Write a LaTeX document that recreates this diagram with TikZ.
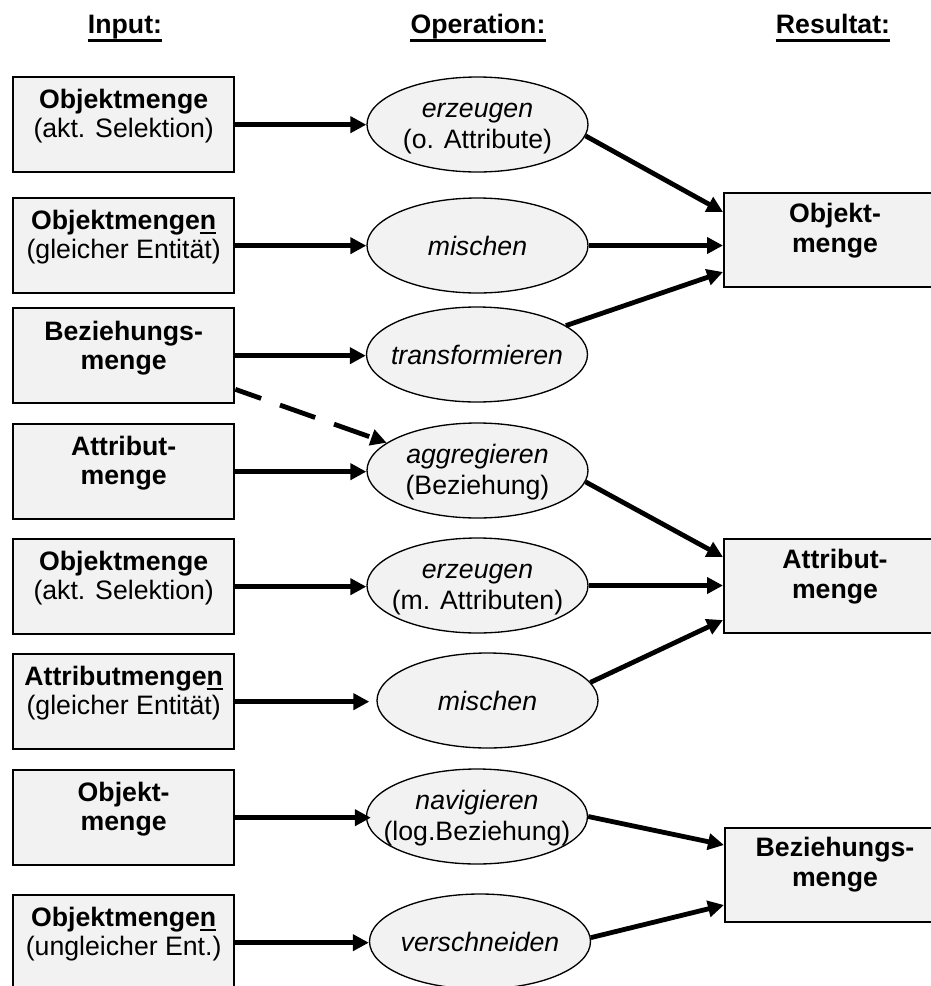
\documentclass[tikz,border=0pt]{standalone}
\usepackage{fontspec}
\setmainfont{Liberation Sans}
\usetikzlibrary{arrows.meta,shapes.geometric,calc}
\newsavebox\ulbox
\newcommand\ulN[1]{\sbox\ulbox{#1}\rlap{\rule[-3.3pt]{\wd\ulbox}{1.7pt}}\usebox\ulbox}
\begin{document}
\begin{tikzpicture}[x=0.75pt,y=-0.75pt,
  inbox/.style={draw, line width=1.75pt, fill=black!5, minimum width=165.75pt, minimum height=71.25pt, inner sep=0pt, anchor=north west},
  resbox/.style={inbox, minimum width=168pt, minimum height=70.5pt},
  intext/.style={font=\fontsize{20}{22}\selectfont, align=center, inner sep=0pt, anchor=north},
  restext/.style={font=\bfseries\fontsize{20}{22.5}\selectfont, align=center, inner sep=0pt, anchor=north},
  opnode/.style={ellipse, draw, line width=1pt, fill=black!5, minimum width=165.75pt, minimum height=71.25pt, inner sep=0pt},
  optext/.style={font=\fontsize{20}{23.5}\selectfont, align=center, inner sep=0pt},
  hdr/.style={font=\bfseries\fontsize{20}{22}\selectfont, inner sep=0pt, anchor=base},
  ulline/.style={line width=2.4pt},
  conn/.style={line width=3.6pt, -{Triangle[length=12pt,width=12pt]}},
  dconn/.style={conn, dash pattern=on 28pt off 15pt, dash phase=7.5pt},
]
\useasboundingbox (0,0) rectangle (931,986);
\clip (0,0) rectangle (931,986);

% headers
\node[hdr] (h1) at (125,33) {Input:};
\node[hdr] (h2) at (478,33) {Operation:};
\node[hdr] (h3) at (833,33) {Resultat:};
\draw[ulline] ($(h1.base west)+(0,7.5)$) -- ($(h1.base east)+(0,7.5)$);
\draw[ulline] ($(h2.base west)+(0,7.5)$) -- ($(h2.base east)+(0,7.5)$);
\draw[ulline] ($(h3.base west)+(0,7.5)$) -- ($(h3.base east)+(0,7.5)$);

% input boxes
\node[inbox] (b1) at (12,76) {};
\node[inbox] (b2) at (12,197) {};
\node[inbox] (b3) at (12,307) {};
\node[inbox] (b4) at (12,423) {};
\node[inbox] (b5) at (12,538) {};
\node[inbox] (b6) at (12,653) {};
\node[inbox] (b7) at (12,769) {};
\node[inbox] (b8) at (12,894) {};
\node[intext] (tb1) at ($(b1.north)+(0,13)$) {{\bfseries Objektmenge}\\(akt. Selektion)};
\node[intext] (tb2) at ($(b2.north)+(0,13)$) {{\bfseries Objektmenge\ulN{n}}\\(gleicher Entität)};
\node[intext] (tb3) at ($(b3.north)+(0,14)$) {{\bfseries Beziehungs-}\\{\bfseries menge}};
\node[intext] (tb4) at ($(b4.north)+(0,13)$) {{\bfseries Attribut-}\\{\bfseries menge}};
\node[intext] (tb5) at ($(b5.north)+(0,13)$) {{\bfseries Objektmenge}\\(akt. Selektion)};
\node[intext] (tb6) at ($(b6.north)+(0,13)$) {{\bfseries Attributmenge\ulN{n}}\\(gleicher Entität)};
\node[intext] (tb7) at ($(b7.north)+(0,13)$) {{\bfseries Objekt-}\\{\bfseries menge}};
\node[intext] (tb8) at ($(b8.north)+(0,13)$) {{\bfseries Objektmenge\ulN{n}}\\(ungleicher Ent.)};

% operations
\node[opnode] (e1) at (477.5,124.5) {};
\node[opnode] (e2) at (477.5,245.5) {};
\node[opnode] (e3) at (477,354.5) {};
\node[opnode] (e4) at (477.5,470.5) {};
\node[opnode] (e5) at (477.5,585.5) {};
\node[opnode] (e6) at (487.5,700.5) {};
\node[opnode] (e7) at (477,816.5) {};
\node[opnode] (e8) at (480,941.5) {};
\node[optext, yshift=-1.7pt] (te1) at (e1) {\strut\textit{erzeugen}\\\strut(o. Attribute)};
\node[optext] (te2) at (e2) {\textit{mischen}};
\node[optext] (te3) at (e3) {\textit{transformieren}};
\node[optext, yshift=-1.7pt] (te4) at (e4) {\strut\textit{aggregieren}\\\strut(Beziehung)};
\node[optext, yshift=-1.7pt] (te5) at (e5) {\strut\textit{erzeugen}\\\strut(m. Attributen)};
\node[optext] (te6) at (e6) {\textit{mischen}};
\node[optext, yshift=-1.7pt] (te7) at (e7) {\strut\textit{navigieren}\\\strut(log.Beziehung)};
\node[optext] (te8) at (e8) {\textit{verschneiden}};

% results
\node[resbox] (r1) at (723,192) {};
\node[resbox] (r2) at (723,538) {};
\node[resbox] (r3) at (724,827) {};
\node[restext] (tr1) at (835,203) {Objekt-\\menge};
\node[restext] (tr2) at (835,549) {Attribut-\\menge};
\node[restext] (tr3) at (835,837) {Beziehungs-\\menge};

% input connectors
\draw[conn] (b1.east) -- (b1.east -| e1.west);
\draw[conn] (b2.east) -- (b2.east -| e2.west);
\draw[conn] (b3.east) -- (b3.east -| e3.west);
\draw[conn] (b4.east) -- (b4.east -| e4.west);
\draw[conn] (b5.east) -- (b5.east -| e5.west);
\draw[conn] (b6.east) -- ($(b6.east -| e6.west)+(-7,0)$);
\draw[conn] (b7.east) -- ($(b7.east -| e7.west)+(5,0)$);
\draw[conn] (b8.east) -- (b8.east -| e8.west);
\draw[dconn] ($(b3.south east)+(0,-15)$) -- (e4.163);

% result connectors
\draw[conn] (e1.-6) -- ($(r1.north west)+(0,20)$);
\draw[conn] (e2.east) -- (e2.east -| r1.west);
\draw[conn] (e3.18) -- ($(r1.north west)+(0,80)$);
\draw[conn] (e4.-6) -- ($(r2.north west)+(0,19)$);
\draw[conn] (e5.east) -- (e5.east -| r2.west);
\draw[conn] (e6.10) -- ($(r2.north west)+(0,82)$);
\draw[conn] (e7.east) -- ($(r3.north west)+(0,18)$);
\draw[conn] (e8.2) -- ($(r3.north west)+(0,78)$);
\end{tikzpicture}
\end{document}
